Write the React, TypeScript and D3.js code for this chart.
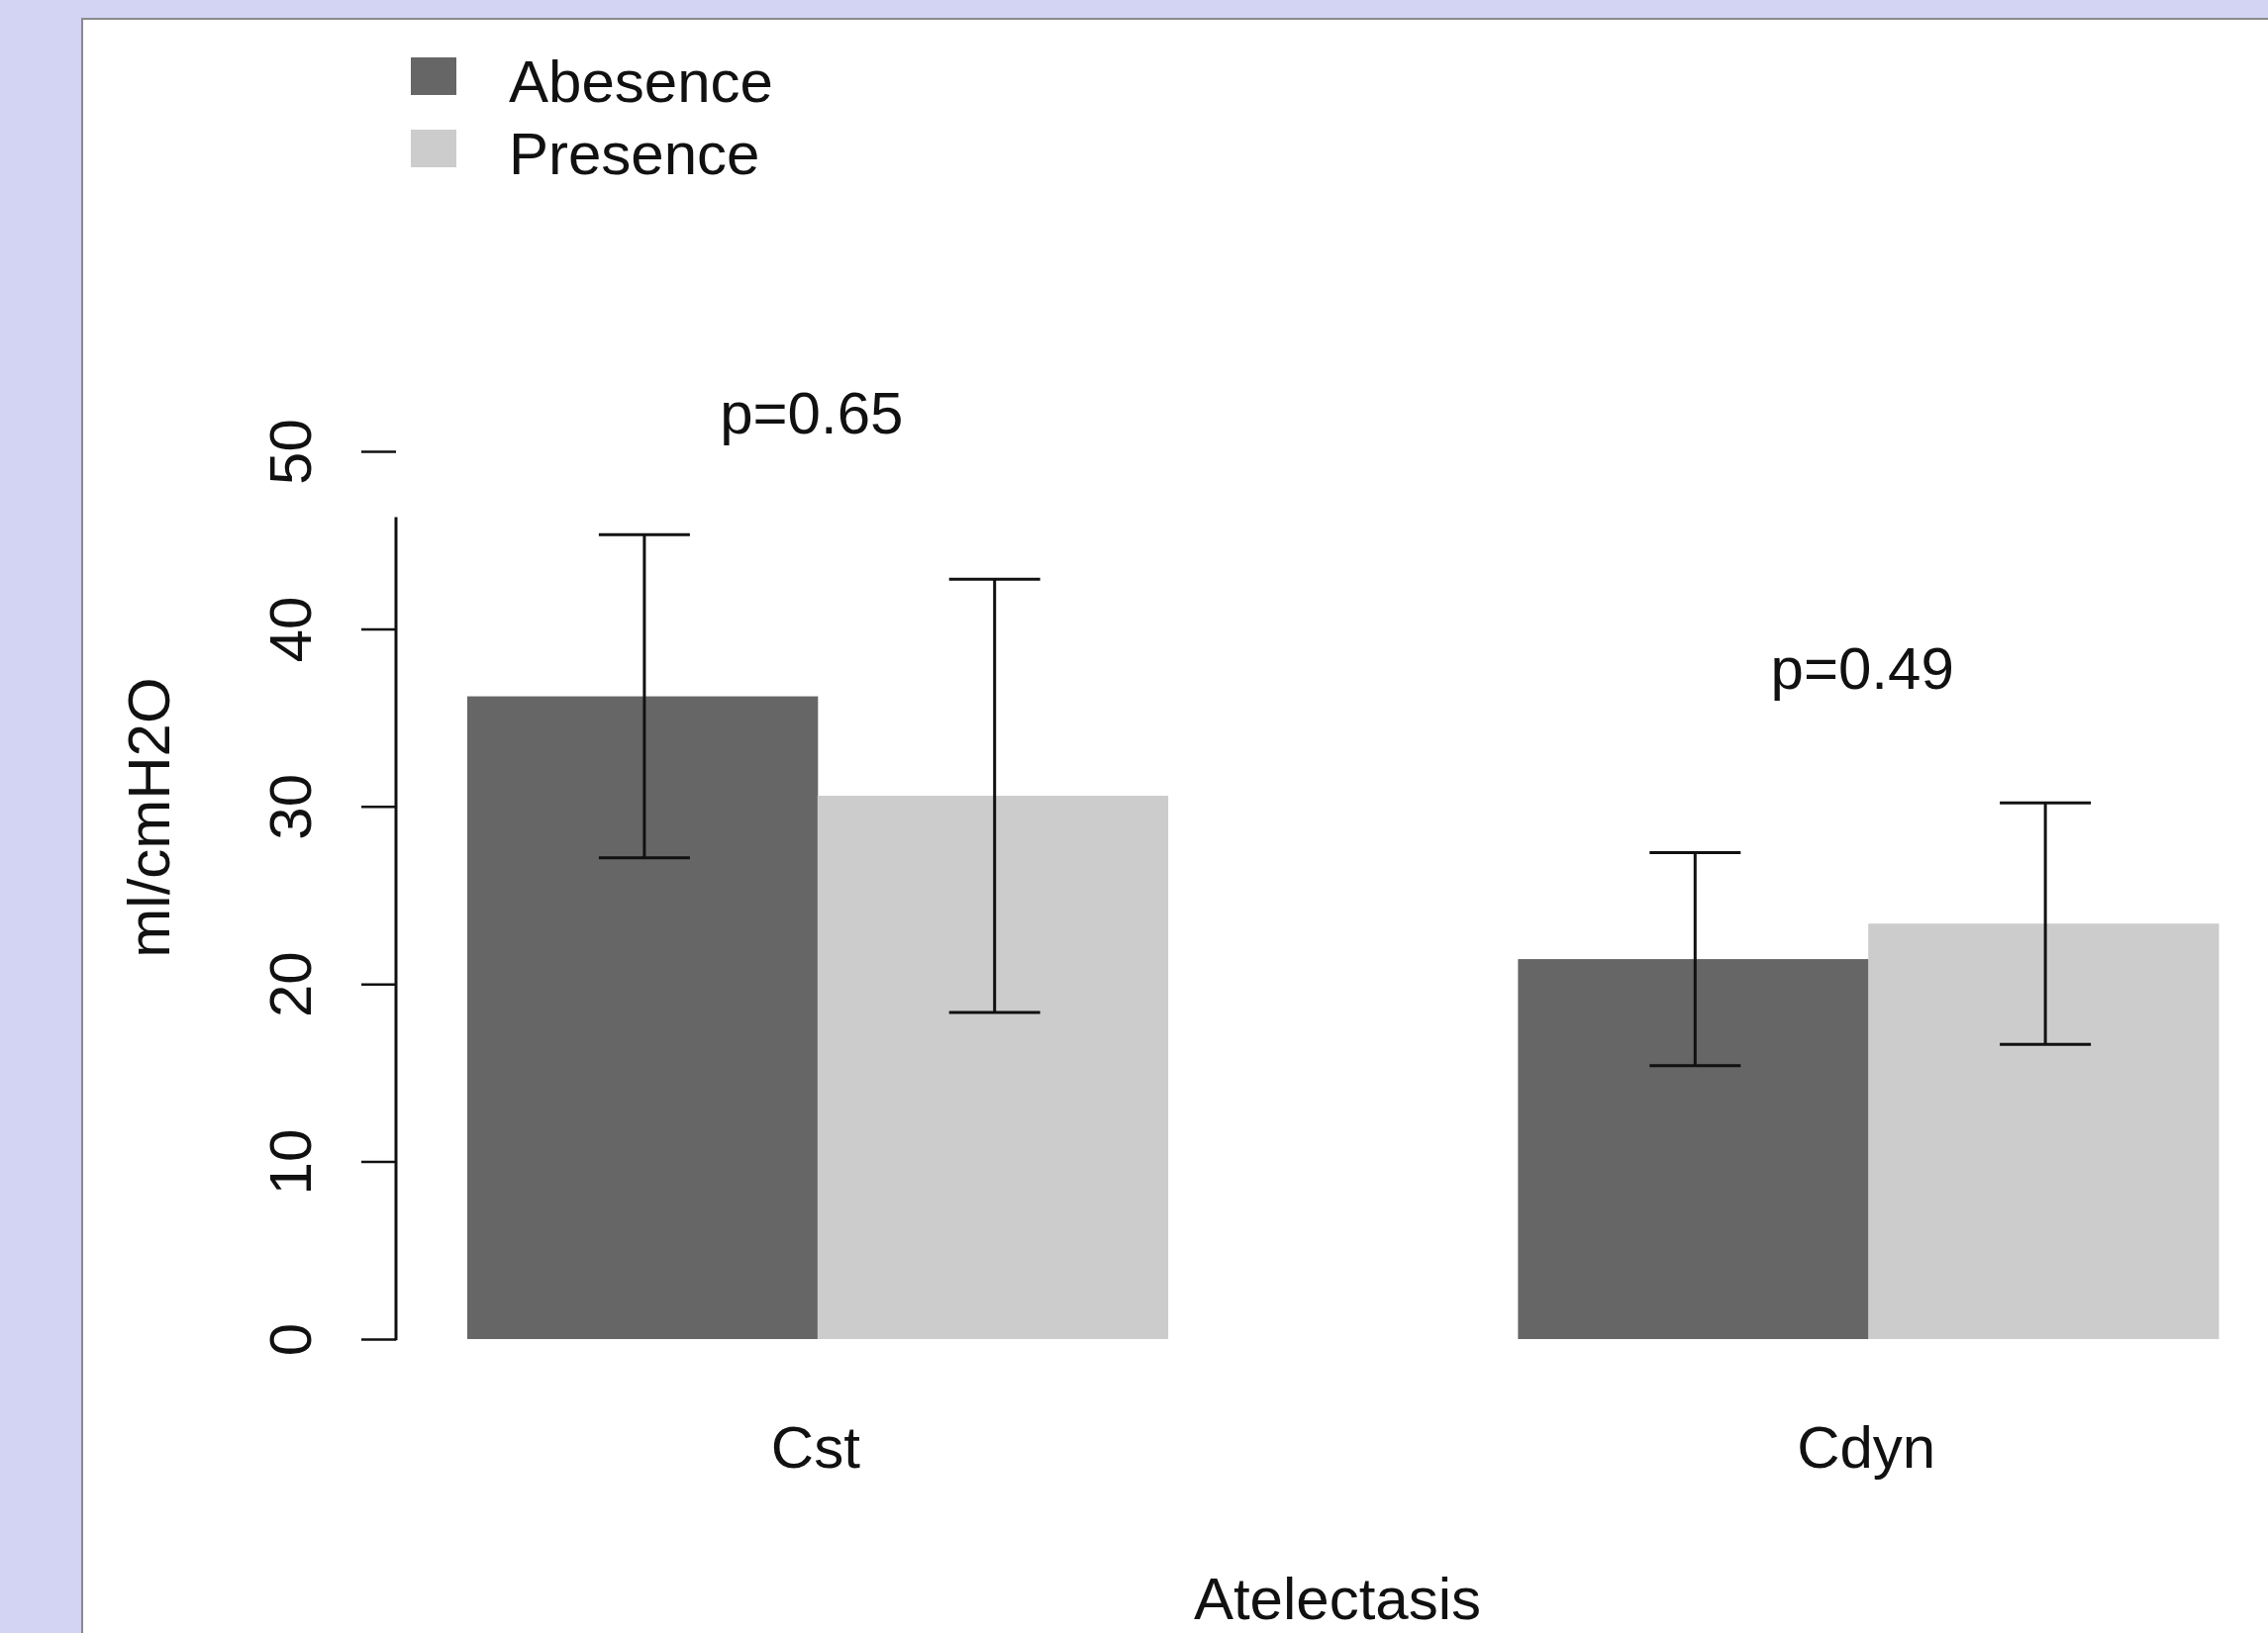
import React from "react";
import { select, scaleLinear, scaleBand, axisLeft } from "d3";

const categories = ["Cst", "Cdyn"];
const groups = ["Abesence", "Presence"];
const groupColors = ["#666666", "#cccccc"];
const absenceMean = [36.2, 21.4];
const absenceSd = [9.1, 6.0];
const presenceMean = [30.6, 23.4];
const presenceSd = [12.2, 6.8];
const pLabels = ["p=0.65", "p=0.49"];
const pLabelAt = [51.0, 36.6];
const yTicks = [0, 10, 20, 30, 40, 50];
const axisLineTop = 46.3;

const W = 2291;
const H = 1650;
const FONT = "'Liberation Sans', Arial, sans-serif";

export default function App() {
  const svgRef = React.useRef<SVGSVGElement>(null);

  React.useEffect(() => {
    const svg = select(svgRef.current);
    svg.selectAll("*").remove();

    const yScale = scaleLinear().domain([0, 50]).range([1353, 456]);
    const xGroup = scaleBand()
      .domain(categories)
      .range([472, 2241])
      .paddingInner(1 / 3)
      .paddingOuter(0);
    const xInner = scaleBand()
      .domain(groups)
      .range([0, xGroup.bandwidth()]);

    // background + panel
    svg.append("rect").attr("width", W).attr("height", H).attr("fill", "#d3d3f3");
    svg
      .append("rect")
      .attr("x", 83)
      .attr("y", 19)
      .attr("width", W - 83 + 5)
      .attr("height", H - 19 + 5)
      .attr("fill", "#ffffff")
      .attr("stroke", "#8a8a8a")
      .attr("stroke-width", 2);

    const rows = categories.map((c, i) => [
      { cat: c, grp: groups[0], mean: absenceMean[i], sd: absenceSd[i], color: groupColors[0] },
      { cat: c, grp: groups[1], mean: presenceMean[i], sd: presenceSd[i], color: groupColors[1] }
    ]).flat();

    // bars
    svg
      .selectAll(".bar")
      .data(rows)
      .join("rect")
      .attr("class", "bar")
      .attr("x", d => xGroup(d.cat)! + xInner(d.grp)!)
      .attr("y", d => yScale(d.mean))
      .attr("width", xInner.bandwidth() + 0.5)
      .attr("height", d => yScale(0) - yScale(d.mean))
      .attr("fill", d => d.color);

    // error bars
    const cap = 46;
    const err = svg
      .selectAll(".err")
      .data(rows)
      .join("g")
      .attr("class", "err")
      .attr("stroke", "#111")
      .attr("stroke-width", 3)
      .attr("transform", d => `translate(${xGroup(d.cat)! + xInner(d.grp)! + xInner.bandwidth() / 2 + 2},0)`);
    err
      .append("line")
      .attr("y1", d => yScale(d.mean - d.sd))
      .attr("y2", d => yScale(d.mean + d.sd));
    err
      .append("line")
      .attr("x1", -cap)
      .attr("x2", cap)
      .attr("y1", d => yScale(d.mean + d.sd))
      .attr("y2", d => yScale(d.mean + d.sd));
    err
      .append("line")
      .attr("x1", -cap)
      .attr("x2", cap)
      .attr("y1", d => yScale(d.mean - d.sd))
      .attr("y2", d => yScale(d.mean - d.sd));

    // y axis
    const yAxis = axisLeft(yScale).tickValues(yTicks).tickSize(35).tickPadding(0);
    const gy = svg.append("g").attr("transform", "translate(400,0)").call(yAxis);
    gy.select(".domain").remove();
    gy.selectAll(".tick line").attr("stroke", "#111").attr("stroke-width", 2.5);
    gy.selectAll(".tick text")
      .attr("x", 0)
      .attr("y", -86)
      .attr("dy", 0)
      .attr("transform", "rotate(-90)")
      .attr("text-anchor", "middle")
      .attr("fill", "#111")
      .style("font-family", FONT)
      .style("font-size", "60px");
    svg
      .append("line")
      .attr("x1", 400)
      .attr("x2", 400)
      .attr("y1", yScale(0) + 1.25)
      .attr("y2", yScale(axisLineTop))
      .attr("stroke", "#111")
      .attr("stroke-width", 3);

    const text = (x: number, y: number, s: string, rot = false) =>
      svg
        .append("text")
        .attr("x", rot ? 0 : x)
        .attr("y", rot ? 0 : y)
        .attr("transform", rot ? `translate(${x},${y}) rotate(-90)` : null)
        .attr("text-anchor", "middle")
        .attr("fill", "#111")
        .style("font-family", FONT)
        .style("font-size", "60px")
        .text(s);

    // category labels
    categories.forEach(c => text(xGroup(c)! + xGroup.bandwidth() / 2 - 2, 1483, c));
    // p values
    categories.forEach((c, i) =>
      text(xGroup(c)! + xGroup.bandwidth() / 2 - 6, yScale(pLabelAt[i]), pLabels[i])
    );
    text(1351, 1636, "Atelectasis");
    text(171, 826, "ml/cmH2O", true);

    // legend
    const leg = svg
      .selectAll(".leg")
      .data(groups)
      .join("g")
      .attr("class", "leg")
      .attr("transform", (d, i) => `translate(415,${58 + i * 73})`);
    leg
      .append("rect")
      .attr("width", 46)
      .attr("height", 38)
      .attr("fill", (d, i) => groupColors[i]);
    leg
      .append("text")
      .attr("x", 99)
      .attr("y", 45)
      .attr("fill", "#111")
      .style("font-family", FONT)
      .style("font-size", "60px")
      .text(d => d);
  }, []);

  return (
    <div style={{ position: "absolute", left: 0, top: 0 }}>
      <svg ref={svgRef} width={W} height={H} style={{ display: "block" }} />
    </div>
  );
}
